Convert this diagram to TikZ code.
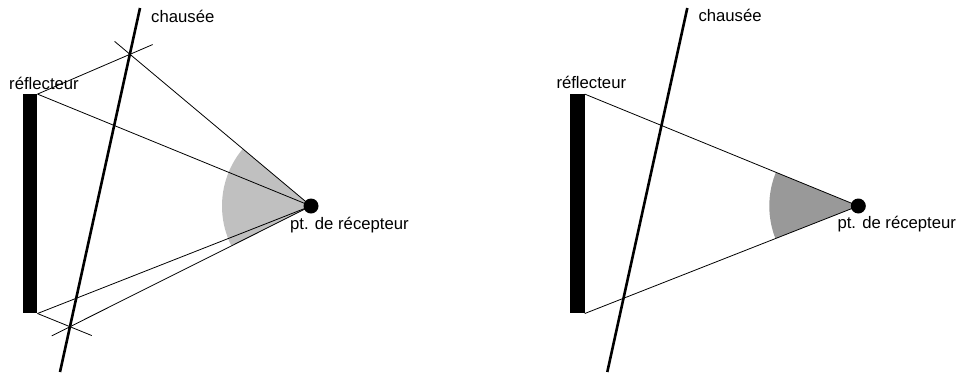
\documentclass[tikz,border=0pt]{standalone}
\usepackage{fontspec}
\setmainfont{Liberation Sans}
\usetikzlibrary{calc}
\definecolor{lightsector}{RGB}{192,192,192}
\definecolor{darksector}{RGB}{153,153,153}
\begin{document}
\begin{tikzpicture}[x=1pt,y=-1pt,
  thinline/.style={line width=0.8pt},
  roadline/.style={line width=2.6pt},
  reflbar/.style={fill=black, draw=none, rectangle, inner sep=0pt, minimum width=14.6pt, minimum height=219pt},
  recdot/.style={circle, fill=black, inner sep=0pt, minimum size=15pt},
  lbl/.style={inner sep=0pt, anchor=base west, font=\fontsize{16.7}{20}\selectfont}]
\useasboundingbox (0,0) rectangle (956,376);

% ---------- left panel ----------
\coordinate (roadAtop) at (140,8);
\coordinate (roadAbot) at (60,372);
\coordinate (PA1) at (130,54.3);
\coordinate (PA2) at (70,326.7);
\coordinate (recAc) at (311,206);
\begin{scope}
  \clip (recAc) -- (PA1) -- (PA2) -- cycle;
  \fill[lightsector] (recAc) circle[radius=89];
\end{scope}
\node[reflbar] (reflA) at (30,203.8) {};
\node[recdot] (recA) at (recAc) {};
\draw[thinline] (reflA.north east) -- (recA.center);
\draw[thinline] (reflA.south east) -- (recA.center);
\draw[thinline] (recA.center) -- ($(recA.center)!1.085!(PA1)$);
\draw[thinline] (reflA.north east) -- ($(reflA.north east)!1.245!(PA1)$);
\draw[thinline] (recA.center) -- ($(recA.center)!1.076!(PA2)$);
\draw[thinline] (reflA.south east) -- ($(reflA.south east)!1.67!(PA2)$);
\draw[roadline] (roadAtop) -- (roadAbot);
\node[lbl] (roadlblA) at (151,22) {chausée};
\node[lbl] (refllblA) at (9,89.5) {réflecteur};
\node[lbl] (reclblA) at (290,229.5) {pt. de récepteur};

% ---------- right panel ----------
\begin{scope}[xshift=547.3pt]
  \coordinate (roadBtop) at (140,8);
  \coordinate (roadBbot) at (60,372);
  \coordinate (recBc) at (311,206);
  \node[reflbar] (reflB) at (30,203.8) {};
  \begin{scope}
    \clip (recBc) -- (reflB.north east) -- (reflB.south east) -- cycle;
    \fill[darksector] (recBc) circle[radius=89];
  \end{scope}
  \node[recdot] (recB) at (recBc) {};
  \draw[thinline] (reflB.north east) -- (recB.center);
  \draw[thinline] (reflB.south east) -- (recB.center);
  \draw[roadline] (roadBtop) -- (roadBbot);
  \node[lbl] (roadlblB) at (151,21) {chausée};
  \node[lbl] (refllblB) at (9,88.5) {réflecteur};
  \node[lbl] (reclblB) at (290,228) {pt. de récepteur};
\end{scope}
\end{tikzpicture}
\end{document}
